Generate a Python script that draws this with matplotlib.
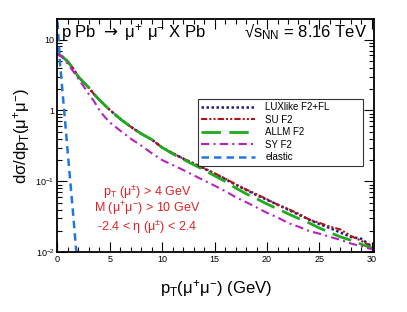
import numpy as np
import matplotlib
matplotlib.use('Agg')
import matplotlib.pyplot as plt
from matplotlib.ticker import FixedLocator, FixedFormatter, MultipleLocator

plt.rcParams['font.family'] = ['Liberation Sans', 'DejaVu Sans']
plt.rcParams['mathtext.fontset'] = 'custom'
plt.rcParams['mathtext.rm'] = 'Liberation Sans'
plt.rcParams['mathtext.it'] = 'Liberation Sans:italic'
plt.rcParams['mathtext.bf'] = 'Liberation Sans:bold'

# pT grid (GeV)
pt = [0, 0.5, 1, 1.5, 2, 2.5, 3, 3.5, 4, 4.5, 5, 6, 7, 8, 9, 10, 11, 12, 13, 14,
      15, 16, 17, 18, 19, 20, 21, 22, 23, 24, 25, 26, 27, 28, 29, 30]

allm = [6.3, 5.7, 4.9, 3.9, 3.0, 2.5, 2.1, 1.7, 1.42, 1.2, 1.02, 0.76, 0.59, 0.47,
        0.39, 0.30, 0.245, 0.205, 0.172, 0.145, 0.12, 0.1, 0.081, 0.067, 0.057,
        0.048, 0.041, 0.035, 0.030, 0.026, 0.022, 0.019, 0.0165, 0.0148, 0.013, 0.0115]

luxlike = [6.3, 5.7, 4.9, 3.9, 3.0, 2.5, 2.1, 1.7, 1.42, 1.2, 1.02, 0.76, 0.59, 0.47,
           0.39, 0.30, 0.25, 0.21, 0.178, 0.152, 0.128, 0.108, 0.090, 0.076, 0.064,
           0.055, 0.047, 0.040, 0.034, 0.029, 0.025, 0.022, 0.019, 0.0165, 0.0155, 0.012]

su = [6.3, 5.7, 4.9, 3.9, 3.0, 2.5, 2.1, 1.7, 1.42, 1.2, 1.02, 0.76, 0.59, 0.47,
      0.39, 0.30, 0.25, 0.21, 0.18, 0.153, 0.13, 0.11, 0.091, 0.077, 0.066,
      0.056, 0.047, 0.041, 0.035, 0.029, 0.026, 0.023, 0.021, 0.017, 0.0145, 0.012]

sy = [6.3, 5.6, 4.5, 3.6, 2.8, 2.2, 1.7, 1.35, 1.02, 0.82, 0.68, 0.52, 0.40, 0.32,
      0.25, 0.20, 0.17, 0.145, 0.122, 0.103, 0.087, 0.073, 0.060, 0.051, 0.043,
      0.036, 0.031, 0.026, 0.023, 0.020, 0.0183, 0.0165, 0.015, 0.0133, 0.0122, 0.011]

pt_el = [0.02, 0.25, 0.5, 0.75, 1.0, 1.25, 1.5, 1.75, 2.0]
elastic = [18, 4.8, 1.8, 0.68, 0.25, 0.095, 0.036, 0.013, 0.005]

fig = plt.figure(figsize=(4.07, 3.12), dpi=100)
ax = fig.add_axes([0.1408, 0.1913, 0.7781, 0.7478])

ax.plot(pt, luxlike, color='#1c1c86', ls=(0, (1, 1)), lw=1.8, label='LUXlike F2+FL')
ax.plot(pt, su, color='#b01414', ls=(0, (3, 1, 1, 1, 1, 1)), lw=1.5, label='SU F2')
ax.plot(pt, allm, color='#1faa1f', ls=(0, (7, 3)), lw=2.0, label='ALLM F2')
ax.plot(pt, sy, color='#b424c0', ls=(0, (4, 2, 1, 2)), lw=1.5, label='SY F2')
ax.plot(pt_el, elastic, color='#1e78e0', ls=(0, (3, 2)), lw=1.8, label='elastic')

ax.set_yscale('log')
ax.set_xlim(0, 30.2)
ax.set_ylim(0.01, 19.5)

ax.xaxis.set_major_locator(MultipleLocator(5))
ax.xaxis.set_minor_locator(MultipleLocator(1))
ax.yaxis.set_major_locator(FixedLocator([0.01, 0.1, 1, 10]))
ax.yaxis.set_major_formatter(FixedFormatter([r'$\mathregular{10^{-2}}$', r'$\mathregular{10^{-1}}$', '1', '10']))
ax.tick_params(which='both', direction='in', top=True, right=True, labelsize=6.5, pad=2)
ax.tick_params(which='major', length=7, width=0.8)
ax.tick_params(which='minor', length=3.5, width=0.8)
for s in ax.spines.values():
    s.set_linewidth(1.3)

ax.set_xlabel(r'$\mathregular{p_{T}(\mu^{+}\mu^{-})}$ (GeV)', fontsize=12, labelpad=10)
fig.text(22 / 407, 1 - 136 / 312, r'd$\mathregular{\sigma}$/d$\mathregular{p_{T}(\mu^{+}\mu^{-})}$',
         rotation=90, fontsize=12, ha='center', va='center')

ax.text(0.012, 0.944, r'p Pb $\rightarrow$ $\mathregular{\mu^{+}\ \mu^{-}}$ X Pb',
        transform=ax.transAxes, fontsize=12, ha='left', va='center',
        math_fontfamily='dejavusans')
ax.text(0.978, 0.944, '\u221as$_{\\mathregular{NN}}$ = 8.16 TeV',
        transform=ax.transAxes, fontsize=12, ha='right', va='center')

red = '#e02222'
ax.text(0.283, 0.258, r'$\mathregular{p_{T}\ (\mu^{\pm})}$ > 4 GeV', color=red,
        transform=ax.transAxes, fontsize=9, ha='center', va='center')
ax.text(0.283, 0.185, r'M $\mathregular{(\mu^{+}\mu^{-})}$ > 10 GeV', color=red,
        transform=ax.transAxes, fontsize=9, ha='center', va='center')
ax.text(0.283, 0.108, r'-2.4 < $\mathregular{\eta\ (\mu^{\pm})}$ < 2.4', color=red,
        transform=ax.transAxes, fontsize=9, ha='center', va='center')

leg = ax.legend(loc='upper left', bbox_to_anchor=(0.444, 0.403, 0.521, 0.254),
                mode='expand', fontsize=7, handlelength=5.5, handletextpad=1.1,
                labelspacing=0.25, borderpad=0.35, borderaxespad=0, fancybox=False,
                frameon=True, edgecolor='black')
leg.get_frame().set_linewidth(0.8)

fig.savefig('out.png', dpi=100)
